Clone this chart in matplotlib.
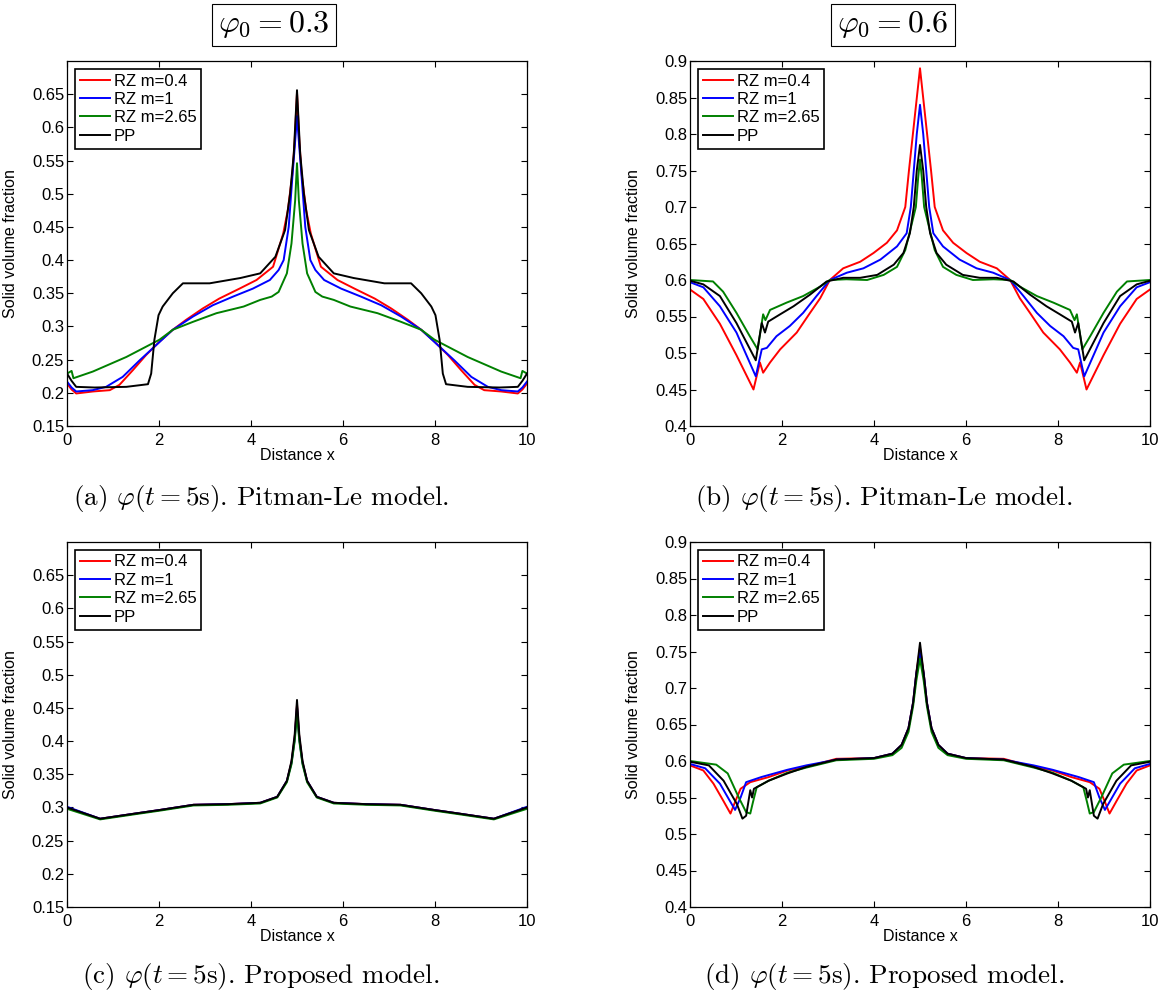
import numpy as np
import matplotlib
matplotlib.use("Agg")
from matplotlib import pyplot as plt

plt.rcParams['font.family'] = ['Liberation Sans', 'DejaVu Sans']
plt.rcParams['mathtext.fontset'] = 'cm'

labels = ["RZ m=0.4", "RZ m=1", "RZ m=2.65", "PP"]
colors = ["#ff0000", "#0000ff", "#008000", "#000000"]

# ---- (a) phi0 = 0.3, Pitman-Le ----
a_red_x = [0, 0.1, 0.2, 0.56, 0.93, 1.14, 1.43, 1.72, 2.01, 2.3, 2.59, 2.95, 3.31, 3.75, 4.12, 4.48, 4.7, 4.8, 4.9, 4.95,
           5.0,
           5.05, 5.1, 5.2, 5.3, 5.52, 5.88, 6.25, 6.69, 7.05, 7.41, 7.7, 7.99, 8.28, 8.57, 8.86, 9.07, 9.44, 9.8, 9.9, 10]
a_red_y = [0.214, 0.205, 0.199, 0.202, 0.204, 0.212, 0.234, 0.257, 0.277, 0.295, 0.31, 0.327, 0.342, 0.357, 0.37, 0.39, 0.44, 0.475, 0.53, 0.58,
           0.652,
           0.58, 0.53, 0.475, 0.44, 0.39, 0.37, 0.357, 0.342, 0.327, 0.31, 0.295, 0.277, 0.257, 0.234, 0.212, 0.204, 0.202, 0.199, 0.205, 0.214]
a_blue_x = [0, 0.1, 0.2, 0.56, 0.85, 1.21, 1.58, 1.94, 2.3, 2.74, 3.17, 3.61, 4.04, 4.41, 4.6, 4.71, 4.82, 4.9, 4.95,
            5.0,
            5.05, 5.1, 5.18, 5.29, 5.4, 5.59, 5.96, 6.39, 6.83, 7.26, 7.7, 8.06, 8.42, 8.79, 9.15, 9.44, 9.8, 9.9, 10]
a_blue_y = [0.217, 0.208, 0.202, 0.204, 0.209, 0.224, 0.249, 0.272, 0.295, 0.315, 0.332, 0.345, 0.357, 0.37, 0.385, 0.40, 0.45, 0.526, 0.57,
            0.617,
            0.57, 0.526, 0.45, 0.40, 0.385, 0.37, 0.357, 0.345, 0.332, 0.315, 0.295, 0.272, 0.249, 0.224, 0.209, 0.204, 0.202, 0.208, 0.217]
a_green_x = [0, 0.1, 0.14, 0.56, 1.29, 2.01, 2.3, 2.74, 3.25, 3.84, 4.2, 4.45, 4.6, 4.78, 4.88, 4.96,
             5.0,
             5.04, 5.12, 5.22, 5.4, 5.55, 5.8, 6.16, 6.75, 7.26, 7.7, 7.99, 8.71, 9.44, 9.86, 9.9, 10]
a_green_y = [0.229, 0.233, 0.222, 0.232, 0.254, 0.280, 0.295, 0.307, 0.32, 0.33, 0.34, 0.345, 0.352, 0.38, 0.425, 0.49,
             0.546,
             0.49, 0.425, 0.38, 0.352, 0.345, 0.34, 0.33, 0.32, 0.307, 0.295, 0.280, 0.254, 0.232, 0.222, 0.233, 0.229]
a_black_x = [0, 0.1, 0.2, 0.6, 1.29, 1.76, 1.83, 1.9, 1.99, 2.08, 2.3, 2.52, 3.1, 3.77, 4.2, 4.53, 4.74, 4.85, 4.93,
             5.0,
             5.07, 5.15, 5.26, 5.47, 5.8, 6.23, 6.9, 7.48, 7.7, 7.92, 8.01, 8.1, 8.17, 8.24, 8.71, 9.4, 9.8, 9.9, 10]
a_black_y = [0.229, 0.218, 0.209, 0.208, 0.209, 0.213, 0.229, 0.28, 0.317, 0.33, 0.35, 0.365, 0.365, 0.373, 0.38, 0.405, 0.445, 0.50, 0.56,
             0.656,
             0.56, 0.50, 0.445, 0.405, 0.38, 0.373, 0.365, 0.365, 0.35, 0.33, 0.317, 0.28, 0.229, 0.213, 0.209, 0.208, 0.209, 0.218, 0.229]

# ---- (b) phi0 = 0.6, Pitman-Le ----
b_red_x = [0, 0.29, 0.65, 1.01, 1.38, 1.52, 1.59, 1.74, 1.96, 2.32, 2.61, 2.83, 3.04, 3.33, 3.7, 3.99, 4.28, 4.5, 4.68, 4.76, 4.88,
           5.0,
           5.12, 5.24, 5.32, 5.5, 5.72, 6.01, 6.3, 6.67, 6.96, 7.17, 7.39, 7.68, 8.04, 8.26, 8.41, 8.48, 8.62, 8.99, 9.35, 9.71, 10]
b_red_y = [0.587, 0.574, 0.54, 0.497, 0.45, 0.487, 0.473, 0.487, 0.505, 0.528, 0.555, 0.575, 0.600, 0.616, 0.625, 0.637, 0.651, 0.668, 0.70, 0.75, 0.82,
           0.89,
           0.82, 0.75, 0.70, 0.668, 0.651, 0.637, 0.625, 0.616, 0.600, 0.575, 0.555, 0.528, 0.505, 0.487, 0.473, 0.487, 0.45, 0.497, 0.54, 0.574, 0.587]
b_blue_x = [0, 0.29, 0.65, 1.01, 1.43, 1.56, 1.67, 1.88, 2.17, 2.46, 2.75, 3.04, 3.41, 3.77, 4.14, 4.5, 4.71, 4.8, 4.865, 4.93,
            5.0,
            5.07, 5.135, 5.2, 5.29, 5.5, 5.86, 6.23, 6.59, 6.96, 7.25, 7.54, 7.83, 8.12, 8.33, 8.44, 8.57, 8.99, 9.35, 9.71, 10]
b_blue_y = [0.597, 0.590, 0.564, 0.528, 0.468, 0.505, 0.507, 0.523, 0.537, 0.555, 0.578, 0.600, 0.610, 0.616, 0.628, 0.646, 0.664, 0.70, 0.75, 0.80,
            0.84,
            0.80, 0.75, 0.70, 0.664, 0.646, 0.628, 0.616, 0.610, 0.600, 0.578, 0.555, 0.537, 0.523, 0.507, 0.505, 0.468, 0.528, 0.564, 0.590, 0.597]
b_green_x = [0, 0.5, 0.72, 1.01, 1.3, 1.47, 1.59, 1.64, 1.74, 2.1, 2.46, 2.83, 3.04, 3.4, 3.85, 4.21, 4.5, 4.68, 4.79, 4.91, 4.96,
             5.0,
             5.04, 5.09, 5.21, 5.32, 5.5, 5.79, 6.15, 6.6, 6.96, 7.17, 7.54, 7.9, 8.26, 8.36, 8.41, 8.53, 8.7, 8.99, 9.28, 9.5, 10]
b_green_y = [0.600, 0.598, 0.584, 0.555, 0.523, 0.505, 0.553, 0.545, 0.559, 0.569, 0.578, 0.591, 0.600, 0.601, 0.600, 0.607, 0.618, 0.641, 0.669, 0.70, 0.74,
             0.765,
             0.74, 0.70, 0.669, 0.641, 0.618, 0.607, 0.600, 0.601, 0.600, 0.591, 0.578, 0.569, 0.559, 0.545, 0.553, 0.505, 0.523, 0.555, 0.584, 0.598, 0.600]
b_black_x = [0, 0.29, 0.65, 1.01, 1.43, 1.56, 1.63, 1.7, 1.96, 2.25, 2.61, 2.97, 3.33, 3.7, 4.07, 4.43, 4.64, 4.78, 4.865, 4.93,
             5.0,
             5.07, 5.135, 5.22, 5.36, 5.57, 5.93, 6.3, 6.67, 7.03, 7.39, 7.75, 8.04, 8.3, 8.37, 8.44, 8.57, 8.99, 9.35, 9.71, 10]
b_black_y = [0.599, 0.594, 0.578, 0.541, 0.490, 0.541, 0.528, 0.543, 0.553, 0.564, 0.580, 0.598, 0.603, 0.603, 0.607, 0.621, 0.637, 0.664, 0.70, 0.75,
             0.785,
             0.75, 0.70, 0.664, 0.637, 0.621, 0.607, 0.603, 0.603, 0.598, 0.580, 0.564, 0.553, 0.543, 0.528, 0.541, 0.490, 0.541, 0.578, 0.594, 0.599]

# ---- (c) phi0 = 0.3, proposed ----
c_x = [0, 0.72, 1.5, 2.0, 2.75, 3.5, 4.2, 4.57, 4.78, 4.88, 4.95, 5.0, 5.05, 5.12, 5.22, 5.43, 5.8, 6.5, 7.25, 8.0, 8.5, 9.28, 10]
c_red_y = [0.30, 0.283, 0.291, 0.296, 0.304, 0.305, 0.307, 0.316, 0.34, 0.368, 0.405, 0.455, 0.405, 0.368, 0.34, 0.316, 0.307, 0.305, 0.304, 0.296, 0.291, 0.283, 0.30]
c_blue_y = [0.301, 0.283, 0.291, 0.296, 0.304, 0.305, 0.307, 0.316, 0.34, 0.367, 0.403, 0.452, 0.403, 0.367, 0.34, 0.316, 0.307, 0.305, 0.304, 0.296, 0.291, 0.283, 0.301]
c_green_y = [0.298, 0.282, 0.290, 0.295, 0.303, 0.304, 0.306, 0.315, 0.338, 0.365, 0.40, 0.44, 0.40, 0.365, 0.338, 0.315, 0.306, 0.304, 0.303, 0.295, 0.290, 0.282, 0.298]
c_black_y = [0.30, 0.283, 0.291, 0.296, 0.304, 0.305, 0.307, 0.316, 0.34, 0.37, 0.41, 0.462, 0.41, 0.37, 0.34, 0.316, 0.307, 0.305, 0.304, 0.296, 0.291, 0.283, 0.30]

# ---- (d) phi0 = 0.6, proposed ----
d_red_x = [0, 0.29, 0.51, 0.72, 0.88, 0.98, 1.1, 1.31, 1.71, 2.12, 2.53, 3.18, 4.0, 4.4, 4.6, 4.75, 4.85, 4.92,
           5.0,
           5.08, 5.15, 5.25, 5.4, 5.6, 6.0, 6.82, 7.47, 7.88, 8.29, 8.69, 8.9, 9.02, 9.12, 9.28, 9.49, 9.71, 10]
d_red_y = [0.594, 0.587, 0.569, 0.546, 0.528, 0.544, 0.562, 0.571, 0.578, 0.587, 0.592, 0.603, 0.604, 0.61, 0.622, 0.645, 0.68, 0.72,
           0.755,
           0.72, 0.68, 0.645, 0.622, 0.61, 0.604, 0.603, 0.592, 0.587, 0.578, 0.571, 0.562, 0.544, 0.528, 0.546, 0.569, 0.587, 0.594]
d_blue_x = [0, 0.33, 0.65, 0.86, 0.98, 1.1, 1.22, 1.55, 2.12, 2.53, 3.2, 4.0, 4.4, 4.6, 4.75, 4.85, 4.92,
            5.0,
            5.08, 5.15, 5.25, 5.4, 5.6, 6.0, 6.8, 7.47, 7.88, 8.45, 8.78, 8.9, 9.02, 9.14, 9.35, 9.67, 10]
d_blue_y = [0.596, 0.590, 0.569, 0.546, 0.533, 0.55, 0.571, 0.578, 0.588, 0.594, 0.602, 0.604, 0.61, 0.622, 0.645, 0.68, 0.72,
            0.748,
            0.72, 0.68, 0.645, 0.622, 0.61, 0.604, 0.602, 0.594, 0.588, 0.578, 0.571, 0.55, 0.533, 0.546, 0.569, 0.590, 0.596]
d_green_x = [0, 0.57, 0.82, 1.06, 1.22, 1.31, 1.37, 1.45, 1.71, 2.12, 2.53, 3.18, 4.0, 4.4, 4.6, 4.75, 4.85, 4.92,
             5.0,
             5.08, 5.15, 5.25, 5.4, 5.6, 6.0, 6.82, 7.47, 7.88, 8.29, 8.55, 8.63, 8.69, 8.78, 8.94, 9.18, 9.43, 10]
d_green_y = [0.600, 0.595, 0.583, 0.55, 0.53, 0.528, 0.544, 0.564, 0.573, 0.584, 0.591, 0.601, 0.603, 0.608, 0.618, 0.64, 0.675, 0.71,
             0.74,
             0.71, 0.675, 0.64, 0.618, 0.608, 0.603, 0.601, 0.591, 0.584, 0.573, 0.564, 0.544, 0.528, 0.53, 0.55, 0.583, 0.595, 0.600]
d_black_x = [0, 0.41, 0.73, 1.02, 1.14, 1.22, 1.31, 1.35, 1.39, 1.71, 2.12, 2.53, 3.18, 4.0, 4.4, 4.6, 4.75, 4.85, 4.92,
             5.0,
             5.08, 5.15, 5.25, 5.4, 5.6, 6.0, 6.82, 7.47, 7.88, 8.29, 8.61, 8.65, 8.69, 8.78, 8.86, 8.98, 9.27, 9.59, 10]
d_black_y = [0.599, 0.594, 0.573, 0.541, 0.521, 0.525, 0.56, 0.55, 0.562, 0.573, 0.583, 0.592, 0.602, 0.604, 0.61, 0.622, 0.645, 0.68, 0.72,
             0.762,
             0.72, 0.68, 0.645, 0.622, 0.61, 0.604, 0.602, 0.592, 0.583, 0.573, 0.562, 0.55, 0.56, 0.525, 0.521, 0.541, 0.573, 0.594, 0.599]

ticks_03 = [0.15, 0.2, 0.25, 0.3, 0.35, 0.4, 0.45, 0.5, 0.55, 0.6, 0.65]
ticks_06 = [0.4, 0.45, 0.5, 0.55, 0.6, 0.65, 0.7, 0.75, 0.8, 0.85, 0.9]
xticks = [0, 2, 4, 6, 8, 10]


def panel(rect, series, ylim, yticks):
    ax = fig.add_axes(rect)
    for (x, y), c, lab in zip(series, colors, labels):
        ax.plot(x, y, color=c, lw=1.4, label=lab)
    ax.set_xlim(0, 10)
    ax.set_ylim(*ylim)
    ax.set_xticks(xticks)
    ax.set_xticklabels([str(t) for t in xticks])
    ax.set_yticks(yticks)
    ax.set_yticklabels(["%g" % t for t in yticks])
    ax.tick_params(direction="in", top=True, right=True, length=4, width=0.8,
                   labelsize=12, pad=2)
    ax.tick_params(axis="x", pad=5)
    for s in ax.spines.values():
        s.set_linewidth(0.9)
    ax.set_xlabel("Distance x", fontsize=11.5, labelpad=0)
    ax.set_ylabel("Solid volume fraction", fontsize=11.5)
    ax.yaxis.set_label_coords(-0.107, 0.5)
    leg = ax.legend(loc="upper left", fontsize=12, handlelength=1.85, handletextpad=0.2,
                    labelspacing=0.2, borderpad=0.3, borderaxespad=0.45,
                    fancybox=False, framealpha=1, edgecolor="black")
    leg.get_frame().set_linewidth(1.2)
    return ax


fig = plt.figure(figsize=(11.71, 9.99), dpi=100)

W, H = 1171.0, 999.0
wa = 460 / W
ha = 365 / H
top_b = (H - 426) / H
bot_b = (H - 907) / H

panel([67 / W, top_b, wa, ha],
      [(a_red_x, a_red_y), (a_blue_x, a_blue_y), (a_green_x, a_green_y), (a_black_x, a_black_y)],
      (0.15, 0.7), ticks_03)
panel([690 / W, top_b, wa, ha],
      [(b_red_x, b_red_y), (b_blue_x, b_blue_y), (b_green_x, b_green_y), (b_black_x, b_black_y)],
      (0.4, 0.9), ticks_06)
panel([67 / W, bot_b, wa, ha],
      [(c_x, c_red_y), (c_x, c_blue_y), (c_x, c_green_y), (c_x, c_black_y)],
      (0.15, 0.7), ticks_03)
panel([690 / W, bot_b, wa, ha],
      [(d_red_x, d_red_y), (d_blue_x, d_blue_y), (d_green_x, d_green_y), (d_black_x, d_black_y)],
      (0.4, 0.9), ticks_06)

# boxed headers
box = dict(boxstyle="square,pad=0.18", fc="white", ec="black", lw=0.8)
fig.text(274 / W, 1 - 25 / H, r"$\varphi_0 = 0.3$", fontsize=23, ha="center", va="center", bbox=box)
fig.text(893 / W, 1 - 25 / H, r"$\varphi_0 = 0.6$", fontsize=23, ha="center", va="center", bbox=box)

# captions
caps = [(261, 498, "(a) $\\varphi(t = 5\\mathrm{s})$. Pitman-Le model."),
        (884, 498, "(b) $\\varphi(t = 5\\mathrm{s})$. Pitman-Le model."),
        (261, 977, "(c) $\\varphi(t = 5\\mathrm{s})$. Proposed model."),
        (884, 977, "(d) $\\varphi(t = 5\\mathrm{s})$. Proposed model.")]
for cx, cy, txt in caps:
    fig.text(cx / W, 1 - cy / H, txt, fontsize=19.5, ha="center", va="center", family="cmr10")

fig.savefig("out.png", dpi=100)
